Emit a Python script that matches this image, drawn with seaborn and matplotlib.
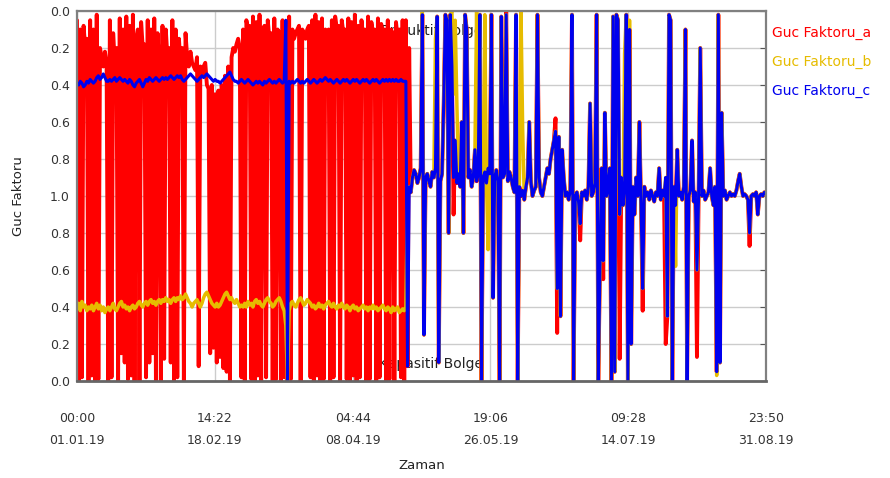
import matplotlib
matplotlib.use("Agg")
import matplotlib.pyplot as plt
import matplotlib.dates as mdates
import pandas as pd
import seaborn as sns

# chart position of each sample: 0 = PF 0.0 inductive (top), 1 = PF 1.0,
# 2 = PF 0.0 capacitive (bottom)
pf_a = [
    # inductive/capacitive switching period
    0.05, 2.0, 0.1, 1.98, 0.08, 0.2, 0.15, 2.0, 0.05, 1.97,
    0.1, 2.0, 0.02, 1.99, 0.2, 0.25, 0.3, 0.22, 0.28, 2.0,
    0.05, 1.98, 0.12, 0.3, 0.2, 2.0, 0.04, 1.85, 0.1, 1.9,
    0.03, 1.99, 0.08, 1.97, 0.02, 2.0, 0.15, 0.1, 2.0, 0.06,
    0.2, 0.18, 1.98, 0.05, 1.9, 0.1, 1.85, 0.04, 2.0, 0.12,
    0.3, 2.0, 0.08, 1.88, 0.1, 0.25, 0.2, 1.9, 0.05, 2.0,
    0.1, 1.98, 0.15, 0.3, 0.2, 2.0, 0.12, 0.25, 0.3, 0.22,
    0.28, 0.3, 0.32, 0.25, 1.92, 0.3, 0.35, 0.3, 0.28, 0.4,
    0.42, 1.85, 0.4, 1.82, 0.45, 1.9, 0.43, 1.87, 0.4, 1.93,
    0.35, 1.95, 0.3, 2.0, 0.25, 0.2, 0.22, 0.18, 0.15, 0.2,
    1.98, 0.1, 2.0, 0.05, 0.1, 0.08, 1.99, 0.03, 2.0, 0.06,
    1.97, 0.02, 2.0, 0.1, 0.08, 1.98, 0.05, 0.15, 0.12, 2.0,
    0.04, 1.99, 0.1, 0.12, 2.0, 0.05, 1.98, 0.08, 2.0, 0.03,
    1.99, 0.1, 0.15, 0.12, 0.1, 0.08, 2.0, 0.1, 0.12, 0.15,
    0.1, 0.08, 1.98, 0.05, 2.0, 0.02, 1.97, 0.06, 2.0, 0.04,
    1.99, 0.1, 0.15, 0.1, 2.0, 0.05, 1.98, 0.03, 0.1, 0.08,
    2.0, 0.05, 0.12, 0.1, 1.99, 0.04, 2.0, 0.06, 1.97, 0.02,
    2.0, 0.08, 1.98, 0.05, 0.15, 0.1, 2.0, 0.03, 1.99, 0.06,
    0.12, 0.1, 2.0, 0.04, 1.98, 0.07, 0.15, 0.1, 2.0, 0.05,
    1.99, 0.1, 0.12, 2.0, 0.06, 0.15, 0.1, 1.98, 0.05, 2.0,
    # after compensation
    0.05, 1.92, 0.20, 0.98, 0.90, 0.86, 0.88, 0.93, 0.90, 0.85,
    0.02, 1.75, 0.90, 0.88, 0.92, 0.95, 0.87, 0.90, 0.85, 0.03,
    1.90, 0.92, 0.88, 0.50, 0.02, 0.05, 1.20, 0.02, 0.30, 1.10,
    0.70, 0.93, 0.88, 0.95, 0.60, 1.20, 0.02, 0.10, 0.90, 0.86,
    0.95, 0.90, 0.75, 0.92, 0.88, 0.02, 2.00, 0.90, 0.87, 0.93,
    0.85, 0.88, 0.02, 1.55, 0.90, 0.86, 0.92, 2.00, 0.03, 0.90,
    0.88, 0.00, 0.92, 0.87, 0.90, 0.95, 0.98, 0.02, 2.00, 0.95,
    1.00, 0.97, 1.02, 0.95, 0.90, 0.60, 0.92, 1.00, 0.97, 0.95,
    0.02, 0.90, 0.98, 1.00, 0.95, 0.90, 0.85, 0.88, 0.80, 0.75,
    0.70, 0.58, 1.74, 0.68, 1.65, 0.75, 0.90, 1.00, 0.98, 1.02,
    0.97, 0.02, 2.00, 1.00, 0.98, 1.03, 1.24, 0.98, 1.00, 0.97,
    1.02, 0.95, 0.50, 1.00, 0.98, 0.93, 0.02, 2.00, 1.40, 0.85,
    1.45, 0.55, 1.00, 0.95, 0.85, 2.00, 0.03, 1.95, 0.02, 0.05,
    1.88, 0.90, 1.05, 0.95, 0.02, 2.00, 0.10, 1.80, 0.95, 1.10,
    0.90, 1.00, 0.60, 1.05, 1.62, 0.95, 1.00, 0.98, 1.02, 0.97,
    1.00, 1.03, 0.98, 1.00, 0.85, 1.02, 0.97, 1.00, 1.80, 1.65,
    0.02, 0.05, 2.00, 0.95, 1.05, 0.75, 1.00, 0.98, 1.02, 0.95,
    0.10, 2.00, 1.00, 0.97, 0.70, 1.03, 0.98, 1.87, 1.00, 0.20,
    1.00, 0.97, 1.02, 1.00, 0.98, 0.85, 1.00, 1.05, 0.95, 1.95,
    0.02, 1.90, 0.55, 1.00, 0.97, 1.02, 1.00, 0.98, 1.00, 0.99,
    1.00, 0.97, 0.92, 0.88, 0.95, 1.00, 0.99, 1.00, 1.02, 1.27,
    1.00, 0.99, 1.00, 0.98, 1.10, 1.00, 0.99, 1.00, 0.98, 0.99,
]

pf_b = [
    1.6, 1.58, 1.62, 1.57, 1.6, 1.59, 1.62, 1.6, 1.61, 1.59,
    1.62, 1.6, 1.58, 1.61, 1.59, 1.62, 1.6, 1.63, 1.61, 1.6,
    1.62, 1.6, 1.58, 1.61, 1.62, 1.6, 1.58, 1.57, 1.6, 1.59,
    1.61, 1.6, 1.62, 1.6, 1.59, 1.61, 1.6, 1.58, 1.57, 1.59,
    1.6, 1.58, 1.57, 1.59, 1.57, 1.56, 1.58, 1.57, 1.59, 1.57,
    1.56, 1.58, 1.56, 1.57, 1.55, 1.57, 1.56, 1.58, 1.56, 1.55,
    1.57, 1.55, 1.56, 1.54, 1.56, 1.55, 1.53, 1.55, 1.57, 1.58,
    1.6, 1.58, 1.57, 1.56, 1.58, 1.6, 1.58, 1.55, 1.53, 1.52,
    1.54, 1.56, 1.58, 1.59, 1.6, 1.58, 1.6, 1.59, 1.57, 1.55,
    1.53, 1.52, 1.54, 1.56, 1.55, 1.57, 1.58, 1.56, 1.58, 1.6,
    1.59, 1.6, 1.58, 1.6, 1.57, 1.59, 1.58, 1.6, 1.57, 1.56,
    1.58, 1.57, 1.59, 1.6, 1.58, 1.56, 1.55, 1.57, 1.58, 1.6,
    1.59, 1.57, 1.56, 1.55, 1.57, 1.6, 1.62, 1.7, 2.0, 1.62,
    1.58, 1.57, 1.59, 1.6, 1.58, 1.56, 1.55, 1.57, 1.59, 1.58,
    1.56, 1.57, 1.58, 1.6, 1.59, 1.61, 1.6, 1.58, 1.6, 1.59,
    1.61, 1.59, 1.58, 1.57, 1.59, 1.6, 1.58, 1.6, 1.61, 1.59,
    1.6, 1.58, 1.6, 1.61, 1.59, 1.6, 1.62, 1.6, 1.59, 1.61,
    1.6, 1.62, 1.61, 1.6, 1.59, 1.61, 1.6, 1.62, 1.6, 1.61,
    1.59, 1.61, 1.6, 1.62, 1.61, 1.6, 1.59, 1.61, 1.62, 1.6,
    1.61, 1.63, 1.6, 1.62, 1.61, 1.6, 1.63, 1.62, 1.61, 1.62,
    1.60, 1.00, 0.95, 0.98, 0.90, 0.86, 0.88, 0.93, 0.90, 0.85,
    0.00, 1.75, 0.90, 0.88, 0.92, 0.95, 0.87, 0.90, 0.15, 0.03,
    1.90, 0.92, 0.88, 0.50, 0.02, 0.05, 1.20, 0.02, 0.00, 0.45,
    0.05, 0.50, 0.88, 0.95, 0.60, 1.20, 0.02, 0.10, 0.90, 0.86,
    0.95, 0.90, 0.75, 0.00, 0.88, 0.02, 2.00, 0.90, 0.02, 0.93,
    1.29, 0.88, 0.02, 1.55, 0.90, 0.86, 0.92, 2.00, 0.03, 0.90,
    0.88, 0.02, 0.92, 0.87, 0.90, 0.95, 0.98, 0.02, 2.00, 0.95,
    0.00, 0.63, 1.02, 0.95, 0.90, 0.60, 0.92, 1.00, 0.97, 0.95,
    0.02, 0.90, 0.98, 1.00, 0.95, 0.90, 0.85, 0.88, 0.80, 0.75,
    0.70, 0.65, 1.50, 0.68, 1.65, 0.75, 0.90, 1.00, 0.98, 1.02,
    0.97, 0.02, 2.00, 1.00, 0.98, 1.03, 1.15, 0.98, 1.00, 0.97,
    1.02, 0.95, 0.50, 1.00, 0.98, 0.93, 0.02, 2.00, 1.40, 0.85,
    1.35, 0.55, 1.00, 0.95, 0.85, 2.00, 0.03, 1.95, 0.02, 0.05,
    1.10, 0.90, 1.05, 0.23, 0.02, 2.00, 0.05, 1.80, 0.95, 1.10,
    0.90, 1.00, 0.60, 1.05, 1.50, 0.95, 1.00, 0.98, 1.02, 0.97,
    1.00, 1.03, 0.98, 1.00, 0.85, 1.02, 0.97, 1.00, 0.90, 1.65,
    0.02, 0.05, 2.00, 0.95, 1.38, 0.75, 1.00, 0.98, 1.02, 0.95,
    0.10, 2.00, 1.00, 0.97, 0.70, 1.03, 0.98, 1.40, 1.00, 0.20,
    1.00, 0.97, 1.02, 1.00, 0.98, 0.85, 1.00, 1.05, 0.95, 1.97,
    0.02, 1.90, 0.55, 1.00, 0.97, 1.02, 1.00, 0.98, 1.00, 0.99,
    1.00, 0.97, 0.92, 0.88, 0.95, 1.00, 0.99, 1.00, 1.02, 1.20,
    1.00, 0.99, 1.00, 0.98, 1.10, 1.00, 0.99, 1.00, 0.98, 0.99,
]

pf_c = [
    0.39, 0.4, 0.38, 0.39, 0.41, 0.4, 0.38, 0.39, 0.37, 0.38,
    0.39, 0.38, 0.36, 0.35, 0.37, 0.36, 0.34, 0.36, 0.38, 0.38,
    0.37, 0.38, 0.37, 0.36, 0.38, 0.37, 0.36, 0.37, 0.38, 0.37,
    0.38, 0.39, 0.37, 0.38, 0.4, 0.41, 0.39, 0.38, 0.37, 0.39,
    0.41, 0.39, 0.37, 0.38, 0.36, 0.37, 0.38, 0.37, 0.36, 0.37,
    0.38, 0.37, 0.36, 0.37, 0.36, 0.37, 0.36, 0.35, 0.36, 0.37,
    0.36, 0.35, 0.36, 0.35, 0.37, 0.38, 0.37, 0.36, 0.35, 0.34,
    0.35, 0.36, 0.37, 0.38, 0.37, 0.36, 0.35, 0.36, 0.35, 0.34,
    0.35, 0.36, 0.37, 0.38, 0.37, 0.38, 0.38, 0.39, 0.38, 0.37,
    0.36, 0.35, 0.34, 0.33, 0.35, 0.37, 0.38, 0.38, 0.39, 0.38,
    0.37, 0.38, 0.39, 0.38, 0.37, 0.38, 0.39, 0.4, 0.39, 0.38,
    0.39, 0.38, 0.39, 0.4, 0.38, 0.39, 0.38, 0.37, 0.38, 0.39,
    0.38, 0.39, 0.38, 0.37, 0.38, 0.39, 0.38, 0.05, 2.0, 0.38,
    0.39, 0.38, 0.39, 0.38, 0.37, 0.38, 0.39, 0.38, 0.39, 0.38,
    0.37, 0.38, 0.39, 0.38, 0.37, 0.38, 0.39, 0.38, 0.37, 0.38,
    0.37, 0.36, 0.37, 0.38, 0.37, 0.38, 0.39, 0.38, 0.37, 0.38,
    0.39, 0.38, 0.37, 0.38, 0.37, 0.38, 0.39, 0.38, 0.37, 0.38,
    0.37, 0.38, 0.39, 0.38, 0.37, 0.38, 0.37, 0.38, 0.39, 0.38,
    0.37, 0.38, 0.37, 0.38, 0.39, 0.38, 0.37, 0.38, 0.37, 0.38,
    0.37, 0.38, 0.37, 0.38, 0.37, 0.38, 0.38, 0.37, 0.38, 0.38,
    0.38, 1.92, 0.95, 0.98, 0.90, 0.86, 0.88, 0.93, 0.90, 0.85,
    0.02, 1.75, 0.90, 0.88, 0.92, 0.95, 0.87, 0.90, 0.85, 0.03,
    1.90, 0.92, 0.88, 0.50, 0.02, 0.05, 1.20, 0.02, 0.30, 0.90,
    0.70, 0.93, 0.88, 0.95, 0.60, 1.20, 0.02, 0.10, 0.90, 0.86,
    0.95, 0.90, 0.75, 0.92, 0.88, 0.02, 2.00, 0.90, 0.87, 0.93,
    0.85, 0.88, 0.02, 1.55, 0.90, 0.86, 0.92, 2.00, 0.03, 0.90,
    0.88, 0.02, 0.92, 0.87, 0.90, 0.95, 0.98, 0.02, 2.00, 0.95,
    1.00, 0.97, 1.02, 0.95, 0.90, 0.60, 0.92, 1.00, 0.97, 0.95,
    0.02, 0.90, 0.98, 1.00, 0.95, 0.90, 0.85, 0.88, 0.80, 0.75,
    0.70, 0.65, 1.50, 0.68, 1.65, 0.75, 0.90, 1.00, 0.98, 1.02,
    0.97, 0.02, 2.00, 1.00, 0.98, 1.03, 1.15, 0.98, 1.00, 0.97,
    1.02, 0.95, 0.50, 1.00, 0.98, 0.93, 0.02, 2.00, 1.40, 0.85,
    1.35, 0.55, 1.00, 0.95, 0.85, 2.00, 0.03, 1.95, 0.02, 0.05,
    1.10, 0.90, 1.05, 0.95, 0.02, 2.00, 0.10, 1.80, 0.95, 1.10,
    0.90, 1.00, 0.60, 1.05, 1.50, 0.95, 1.00, 0.98, 1.02, 0.97,
    1.00, 1.03, 0.98, 1.00, 0.85, 1.02, 0.97, 1.00, 0.90, 1.65,
    0.02, 0.05, 2.00, 0.95, 1.05, 0.75, 1.00, 0.98, 1.02, 0.95,
    0.10, 2.00, 1.00, 0.97, 0.70, 1.03, 0.98, 1.40, 1.00, 0.20,
    1.00, 0.97, 1.02, 1.00, 0.98, 0.85, 1.00, 1.05, 0.95, 1.95,
    0.02, 1.90, 0.55, 1.00, 0.97, 1.02, 1.00, 0.98, 1.00, 0.99,
    1.00, 0.97, 0.92, 0.88, 0.95, 1.00, 0.99, 1.00, 1.02, 1.20,
    1.00, 0.99, 1.00, 0.98, 1.10, 1.00, 0.99, 1.00, 0.98, 0.99,
]

start_time = "2019-01-01 00:00"
end_time = "2019-08-31 23:50"
series_names = ["Guc Faktoru_a", "Guc Faktoru_b", "Guc Faktoru_c"]
series_colors = ["#ff0000", "#e6bc00", "#0000ee"]
series_widths = [2.8, 2.5, 2.2]
y_ticks = [0.0, 0.2, 0.4, 0.6, 0.8, 1.0, 1.2, 1.4, 1.6, 1.8, 2.0]
y_tick_labels = ["0.0", "0.2", "0.4", "0.6", "0.8", "1.0",
                 "0.8", "0.6", "0.4", "0.2", "0.0"]

times = pd.date_range(start_time, end_time, periods=len(pf_c))
df = pd.DataFrame({"Zaman": times, series_names[0]: pf_a,
                   series_names[1]: pf_b, series_names[2]: pf_c})
long_df = df.melt(id_vars="Zaman", var_name="faz", value_name="deger")

sns.set_style("white")
plt.rcParams["font.family"] = ["DejaVu Sans"]
plt.rcParams["path.simplify"] = False

fig = plt.figure(figsize=(8.9, 4.78), dpi=100)
ax = fig.add_axes([0.0865, 0.2029, 0.7742, 0.7741])

for name, color, lw in zip(series_names, series_colors, series_widths):
    sns.lineplot(data=long_df[long_df["faz"] == name], x="Zaman", y="deger",
                 color=color, linewidth=lw, label=name, ax=ax,
                 estimator=None, zorder=2)

ax.text(0.589, 0.946, "Enduktif Bolge", transform=ax.transAxes,
        ha="right", va="center", fontsize=10, color="#222222", zorder=1)
ax.text(0.589, 0.045, "Kapasitif Bolge", transform=ax.transAxes,
        ha="right", va="center", fontsize=10, color="#222222", zorder=1)

ax.set_xlim(mdates.date2num(times[0]), mdates.date2num(times[-1]))
ax.set_ylim(2.0, 0.0)
ax.set_yticks(y_ticks)
ax.set_yticklabels(y_tick_labels, fontsize=9, color="#333333")

tick_times = pd.date_range(start_time, end_time, periods=6)
ax.set_xticks(mdates.date2num(tick_times))
ax.set_xticklabels([t.strftime("%H:%M\n%d.%m.%y") for t in tick_times],
                   fontsize=9, color="#333333", linespacing=1.9)

ax.grid(True, color="#cccccc", linewidth=1)
ax.set_axisbelow(True)
ax.tick_params(axis="x", length=0, pad=22)
ax.tick_params(axis="y", left=False, right=True, direction="in",
               length=4, color="#555555", pad=5)
for side, spine in ax.spines.items():
    spine.set_color("#808080")
    spine.set_linewidth(1.6)
ax.spines["bottom"].set_color("#666666")
ax.spines["bottom"].set_linewidth(2)

ax.set_xlabel("Zaman", fontsize=9.5, color="#222222")
ax.xaxis.set_label_coords(0.5, -0.21)
ax.set_ylabel("Guc Faktoru", fontsize=9.5, color="#222222")
ax.yaxis.set_label_coords(-0.076, 0.5)

leg = ax.legend(loc="upper left", bbox_to_anchor=(0.995, 0.985), frameon=False,
                handlelength=0, handletextpad=0, labelcolor="linecolor",
                fontsize=10, labelspacing=1.05, borderaxespad=0.3)
for h in leg.legend_handles:
    h.set_visible(False)

fig.savefig("out.png", dpi=100)
